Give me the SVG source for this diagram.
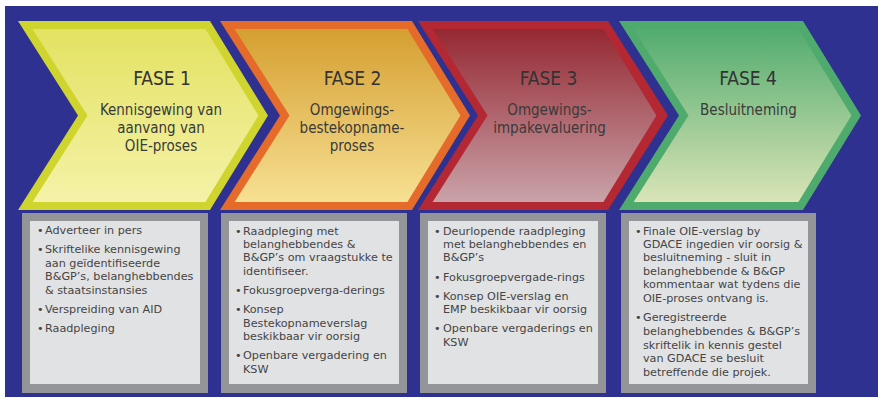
<svg xmlns="http://www.w3.org/2000/svg" width="882" height="401" viewBox="0 0 882 401">
<defs>
<linearGradient id="g1" x1="0" y1="0" x2="0" y2="1"><stop offset="0" stop-color="#E3E262"/><stop offset="1" stop-color="#F5F2A8"/></linearGradient>
<linearGradient id="g2" x1="0" y1="0" x2="0" y2="1"><stop offset="0" stop-color="#D59F31"/><stop offset="1" stop-color="#F7E093"/></linearGradient>
<linearGradient id="g3" x1="0" y1="0" x2="0" y2="1"><stop offset="0" stop-color="#952832"/><stop offset="1" stop-color="#C9A3A9"/></linearGradient>
<linearGradient id="g4" x1="0" y1="0" x2="0" y2="1"><stop offset="0" stop-color="#52AC6F"/><stop offset="1" stop-color="#DAE4B6"/></linearGradient>
<style>
.h{font-family:"DejaVu Sans Condensed","DejaVu Sans",sans-serif;font-size:19px;fill:#333;text-anchor:middle}
.s{font-family:"DejaVu Sans Condensed","DejaVu Sans",sans-serif;font-size:15px;fill:#3a3a3a;text-anchor:middle}
.b{font-family:"DejaVu Sans",sans-serif;font-size:11.2px;fill:#454545}
.bo{fill:#939598}
.bi{fill:#E1E2E4}
</style>
</defs>
<rect x="0" y="0" width="882" height="401" fill="#FFFFFF"/>
<rect x="5" y="6" width="873" height="391" fill="#2E3190"/>

<g id="fase1">
<polygon points="18,21 210,21 268,115.5 210,210 18,210 78,115.5" fill="#CFD52E"/>
<polygon points="32.6,29 205.4,29 258.4,115.5 205.4,202 32.6,202 87.5,115.5" fill="url(#g1)"/>
<text class="h" x="162" y="85">FASE 1</text>
<text class="s" x="161" y="115">Kennisgewing van</text>
<text class="s" x="161" y="133">aanvang van</text>
<text class="s" x="161" y="151">OIE-proses</text>
</g>

<g id="fase2">
<polygon points="220,21 412,21 470,115.5 412,210 220,210 280,115.5" fill="#E56B2A"/>
<polygon points="234.6,29 407.4,29 460.4,115.5 407.4,202 234.6,202 289.5,115.5" fill="url(#g2)"/>
<text class="h" x="352.5" y="85">FASE 2</text>
<text class="s" x="352" y="115">Omgewings-</text>
<text class="s" x="352" y="133">bestekopname-</text>
<text class="s" x="352" y="151">proses</text>
</g>

<g id="fase3">
<polygon points="418,21 608,21 668,115.5 608,210 418,210 478,115.5" fill="#B32833"/>
<polygon points="432.6,29 603.4,29 656.4,115.5 603.4,202 432.6,202 487.5,115.5" fill="url(#g3)"/>
<text class="h" x="548.5" y="85">FASE 3</text>
<text class="s" x="549.5" y="115">Omgewings-</text>
<text class="s" x="549.5" y="133">impakevaluering</text>
</g>

<g id="fase4">
<polygon points="619,21 803,21 861,115.5 803,210 619,210 679,115.5" fill="#4FAA6E"/>
<polygon points="633.6,29 798.4,29 851.4,115.5 798.4,202 633.6,202 688.5,115.5" fill="url(#g4)"/>
<text class="h" x="748" y="85">FASE 4</text>
<text class="s" x="748.5" y="115">Besluitneming</text>
</g>

<g id="box1">
<rect class="bo" x="22" y="213" width="186" height="180"/>
<rect class="bi" x="30" y="221" width="170" height="163"/>
<text class="b"><tspan x="37" y="234">•</tspan><tspan x="45" y="234">Adverteer in pers</tspan>
<tspan x="37" y="253">•</tspan><tspan x="45" y="253">Skriftelike kennisgewing</tspan>
<tspan x="45" y="267">aan geïdentifiseerde</tspan>
<tspan x="45" y="280">B&amp;GP’s, belanghebbendes</tspan>
<tspan x="45" y="294">&amp; staatsinstansies</tspan>
<tspan x="37" y="313">•</tspan><tspan x="45" y="313">Verspreiding van AID</tspan>
<tspan x="37" y="332">•</tspan><tspan x="45" y="332">Raadpleging</tspan></text>
</g>

<g id="box2">
<rect class="bo" x="221" y="213" width="186" height="180"/>
<rect class="bi" x="229" y="221" width="170" height="163"/>
<text class="b"><tspan x="235" y="235">•</tspan><tspan x="243" y="235">Raadpleging met</tspan>
<tspan x="243" y="248">belanghebbendes &amp;</tspan>
<tspan x="243" y="261">B&amp;GP’s om vraagstukke te</tspan>
<tspan x="243" y="275">identifiseer.</tspan>
<tspan x="235" y="294">•</tspan><tspan x="243" y="294">Fokusgroepverga-derings</tspan>
<tspan x="235" y="313">•</tspan><tspan x="243" y="313">Konsep</tspan>
<tspan x="243" y="327">Bestekopnameverslag</tspan>
<tspan x="243" y="340">beskikbaar vir oorsig</tspan>
<tspan x="235" y="359">•</tspan><tspan x="243" y="359">Openbare vergadering en</tspan>
<tspan x="243" y="373">KSW</tspan></text>
</g>

<g id="box3">
<rect class="bo" x="420" y="213" width="186" height="180"/>
<rect class="bi" x="428" y="221" width="170" height="163"/>
<text class="b"><tspan x="434" y="235">•</tspan><tspan x="443" y="235">Deurlopende raadpleging</tspan>
<tspan x="443" y="248">met belanghebbendes en</tspan>
<tspan x="443" y="261">B&amp;GP’s</tspan>
<tspan x="434" y="281">•</tspan><tspan x="443" y="281">Fokusgroepvergade-rings</tspan>
<tspan x="434" y="300">•</tspan><tspan x="443" y="300">Konsep OIE-verslag en</tspan>
<tspan x="443" y="313">EMP beskikbaar vir oorsig</tspan>
<tspan x="434" y="332">•</tspan><tspan x="443" y="332">Openbare vergaderings en</tspan>
<tspan x="443" y="346">KSW</tspan></text>
</g>

<g id="box4">
<rect class="bo" x="621" y="213" width="195" height="180"/>
<rect class="bi" x="629" y="221" width="179" height="163"/>
<text class="b"><tspan x="635" y="235">•</tspan><tspan x="643" y="235">Finale OIE-verslag by</tspan>
<tspan x="643" y="248">GDACE ingedien vir oorsig &amp;</tspan>
<tspan x="643" y="261">besluitneming - sluit in</tspan>
<tspan x="643" y="275">belanghebbende &amp; B&amp;GP</tspan>
<tspan x="643" y="288">kommentaar wat tydens die</tspan>
<tspan x="643" y="302">OIE-proses ontvang is.</tspan>
<tspan x="635" y="321">•</tspan><tspan x="643" y="321">Geregistreerde</tspan>
<tspan x="643" y="335">belanghebbendes &amp; B&amp;GP’s</tspan>
<tspan x="643" y="349">skriftelik in kennis gestel</tspan>
<tspan x="643" y="362">van GDACE se besluit</tspan>
<tspan x="643" y="376">betreffende die projek.</tspan></text>
</g>

<g id="connectors"/>
</svg>
